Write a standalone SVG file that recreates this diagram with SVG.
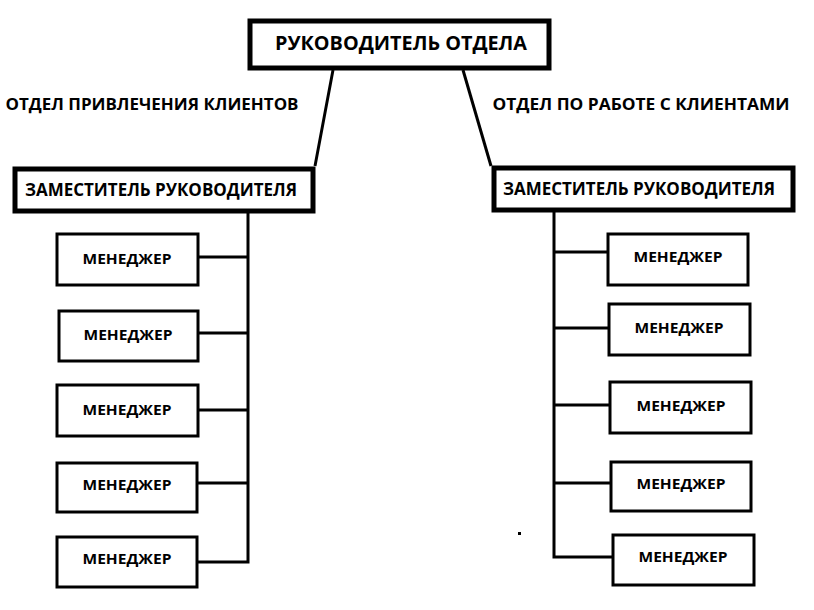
<svg xmlns="http://www.w3.org/2000/svg" width="814" height="610" viewBox="0 0 814 610">
<style>
.thick{fill:#fff;stroke:#000;stroke-width:5}
.box{fill:#fff;stroke:#000;stroke-width:3}
.ln{fill:none;stroke:#000;stroke-width:3}
text{font-family:"Open Sans","Liberation Sans",sans-serif;font-weight:bold;fill:#000;text-anchor:middle}
.m{font-size:14px}
</style>
<rect width="814" height="610" fill="#fff"/>
<g id="connectors">
<line class="ln" x1="333" y1="70" x2="315" y2="166"/>
<line class="ln" x1="463" y1="70" x2="491" y2="166"/>
<polyline class="ln" points="248,212 248,562 197,562"/>
<line class="ln" x1="198" y1="257" x2="248" y2="257"/>
<line class="ln" x1="198" y1="333" x2="248" y2="333"/>
<line class="ln" x1="198" y1="410" x2="248" y2="410"/>
<line class="ln" x1="197" y1="483" x2="248" y2="483"/>
<polyline class="ln" points="554,212 554,557 613,557"/>
<line class="ln" x1="554" y1="252" x2="608" y2="252"/>
<line class="ln" x1="554" y1="328" x2="609" y2="328"/>
<line class="ln" x1="554" y1="405" x2="610" y2="405"/>
<line class="ln" x1="554" y1="483" x2="611" y2="483"/>
</g>
<g id="head">
<rect class="thick" x="250" y="21" width="299" height="47"/>
<text x="401" y="50" font-size="20" textLength="252" lengthAdjust="spacingAndGlyphs">РУКОВОДИТЕЛЬ ОТДЕЛА</text>
</g>
<g id="label-left"><text x="152" y="110" font-size="16" textLength="293" lengthAdjust="spacingAndGlyphs">ОТДЕЛ ПРИВЛЕЧЕНИЯ КЛИЕНТОВ</text></g>
<g id="label-right"><text x="641" y="110" font-size="16" textLength="297" lengthAdjust="spacingAndGlyphs">ОТДЕЛ ПО РАБОТЕ С КЛИЕНТАМИ</text></g>
<g id="dep-left">
<rect class="thick" x="15" y="169" width="298" height="42"/>
<text x="161" y="196" font-size="18" textLength="272" lengthAdjust="spacingAndGlyphs">ЗАМЕСТИТЕЛЬ РУКОВОДИТЕЛЯ</text>
</g>
<g id="dep-right">
<rect class="thick" x="494" y="168" width="299" height="42"/>
<text x="639" y="195" font-size="18" textLength="272" lengthAdjust="spacingAndGlyphs">ЗАМЕСТИТЕЛЬ РУКОВОДИТЕЛЯ</text>
</g>
<g id="m-l1"><rect class="box" x="57" y="234" width="141" height="51"/><text class="m" x="127" y="264" textLength="89" lengthAdjust="spacingAndGlyphs">МЕНЕДЖЕР</text></g>
<g id="m-l2"><rect class="box" x="59" y="311" width="139" height="50"/><text class="m" x="128" y="340" textLength="89" lengthAdjust="spacingAndGlyphs">МЕНЕДЖЕР</text></g>
<g id="m-l3"><rect class="box" x="57" y="385" width="141" height="51"/><text class="m" x="127" y="415" textLength="89" lengthAdjust="spacingAndGlyphs">МЕНЕДЖЕР</text></g>
<g id="m-l4"><rect class="box" x="57" y="463" width="140" height="49"/><text class="m" x="127" y="490" textLength="89" lengthAdjust="spacingAndGlyphs">МЕНЕДЖЕР</text></g>
<g id="m-l5"><rect class="box" x="57" y="537" width="140" height="50"/><text class="m" x="127" y="564" textLength="89" lengthAdjust="spacingAndGlyphs">МЕНЕДЖЕР</text></g>
<g id="m-r1"><rect class="box" x="608" y="234" width="140" height="51"/><text class="m" x="678" y="262" textLength="89" lengthAdjust="spacingAndGlyphs">МЕНЕДЖЕР</text></g>
<g id="m-r2"><rect class="box" x="609" y="304" width="141" height="51"/><text class="m" x="679" y="333" textLength="89" lengthAdjust="spacingAndGlyphs">МЕНЕДЖЕР</text></g>
<g id="m-r3"><rect class="box" x="610" y="382" width="141" height="51"/><text class="m" x="681" y="411" textLength="89" lengthAdjust="spacingAndGlyphs">МЕНЕДЖЕР</text></g>
<g id="m-r4"><rect class="box" x="611" y="462" width="140" height="49"/><text class="m" x="681" y="489" textLength="89" lengthAdjust="spacingAndGlyphs">МЕНЕДЖЕР</text></g>
<g id="m-r5"><rect class="box" x="613" y="535" width="141" height="50"/><text class="m" x="683" y="562" textLength="89" lengthAdjust="spacingAndGlyphs">МЕНЕДЖЕР</text></g>
<rect x="518" y="532" width="3" height="3" fill="#000"/>
</svg>
